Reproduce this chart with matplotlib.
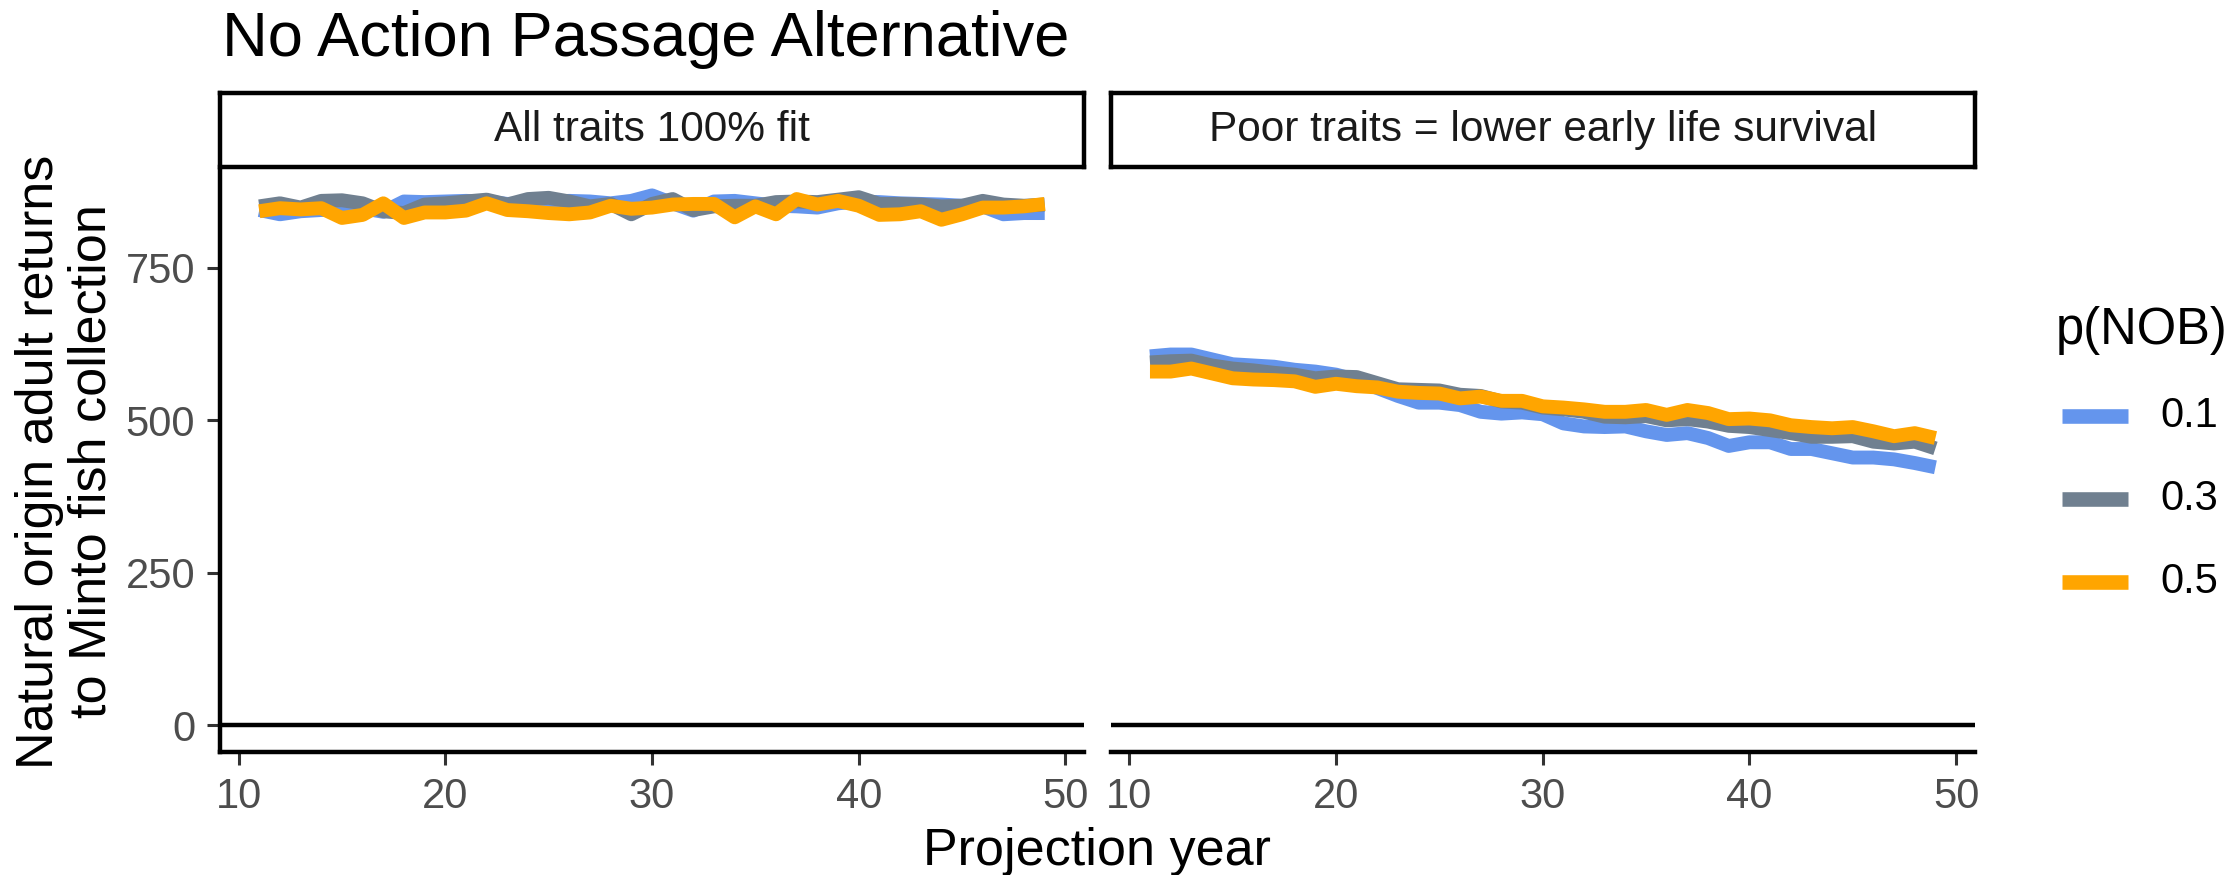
import matplotlib
matplotlib.use('Agg')
import matplotlib.pyplot as plt
from matplotlib.lines import Line2D
import numpy as np

# ---------------- data ----------------
years = np.arange(11, 50)
pnob_levels = ['0.1', '0.3', '0.5']
facets = ['All traits 100% fit', 'Poor traits = lower early life survival']

fit_p01 = [845, 838, 843, 845, 845, 848, 842, 859, 858, 859, 860, 859, 855, 856, 859, 860, 859, 856, 860, 869,
           856, 844, 859, 860, 856, 852, 851, 849, 856, 859, 858, 856, 855, 854, 852, 851, 838, 840, 840]
fit_p03 = [851, 856, 849, 860, 861, 856, 843, 840, 854, 856, 859, 862, 854, 863, 865, 859, 851, 855, 838, 855,
           863, 845, 851, 852, 852, 858, 859, 858, 862, 866, 855, 855, 854, 851, 852, 860, 854, 852, 854]
fit_p05 = [843, 848, 846, 848, 832, 837, 856, 832, 841, 841, 844, 856, 845, 843, 840, 838, 841, 852, 847, 849,
           854, 855, 855, 833, 851, 838, 863, 854, 860, 852, 837, 838, 843, 829, 838, 849, 849, 851, 855]

poor_p01 = [605, 608, 608, 600, 592, 590, 588, 583, 580, 575, 566, 553, 540, 529, 529, 525, 514, 511, 513, 510,
            495, 490, 489, 490, 482, 476, 479, 471, 458, 464, 464, 453, 453, 446, 439, 439, 436, 430, 423]
poor_p03 = [595, 597, 598, 590, 585, 582, 578, 575, 569, 572, 571, 561, 551, 550, 549, 542, 540, 531, 529, 521,
            518, 514, 506, 505, 507, 500, 502, 498, 491, 489, 484, 479, 473, 473, 474, 465, 462, 465, 454]
poor_p05 = [580, 580, 585, 577, 569, 567, 566, 564, 555, 560, 556, 554, 547, 545, 544, 536, 539, 532, 532, 523,
            521, 518, 514, 514, 517, 509, 517, 512, 502, 503, 500, 492, 489, 487, 489, 482, 474, 479, 471]

series_by_facet = [[fit_p01, fit_p03, fit_p05], [poor_p01, poor_p03, poor_p05]]
colors = ['#6495ED', '#708090', '#FFA500']

xticks = [10, 20, 30, 40, 50]
yticks = [0, 250, 500, 750]

# ---------------- layout helpers ----------------
W, H = 2234, 875
def fx(px):
    return px / W
def fy(py):
    return 1 - py / H

plt.rcParams['font.family'] = ['Liberation Sans', 'DejaVu Sans']

fig = plt.figure(figsize=(W / 100, H / 100), dpi=100)
fig.patch.set_facecolor('white')

panel_top, panel_bot = 171, 752
panel_w = 864
panel_lefts = [220, 1110.7]
strip_top, strip_bot = 93, 167

for i, (x0, facet, series) in enumerate(zip(panel_lefts, facets, series_by_facet)):
    ax = fig.add_axes([fx(x0), fy(panel_bot), panel_w / W, (panel_bot - panel_top) / H])
    for vals, col in zip(series, colors):
        ax.plot(years, vals, color=col, lw=10, solid_capstyle='butt', solid_joinstyle='round', zorder=2)
    ax.axhline(0, color='black', lw=3.2, zorder=3)
    ax.set_xlim(9.1, 50.9)
    ax.set_ylim(-44, 909)
    ax.set_xticks(xticks)
    ax.set_yticks(yticks)
    for s in ['top', 'right']:
        ax.spines[s].set_visible(False)
    ax.spines['bottom'].set_linewidth(3.2)
    ax.spines['left'].set_linewidth(3.2)
    ax.tick_params(axis='both', length=9.4, width=2.2, color='#333333', labelcolor='#4D4D4D',
                   labelsize=30, pad=8.6)
    if i == 1:
        ax.spines['left'].set_visible(False)
        ax.tick_params(axis='y', left=False, labelleft=False)

    sax = fig.add_axes([fx(x0), fy(strip_bot), panel_w / W, (strip_bot - strip_top) / H])
    sax.set_xticks([])
    sax.set_yticks([])
    for s in sax.spines.values():
        s.set_linewidth(3.2)
        s.set_color('black')
    sax.text(0.5, 0.5, facet, ha='center', va='center', fontsize=30.5, color='#1A1A1A',
             transform=sax.transAxes)

# title and axis titles
fig.text(fx(222), fy(56), 'No Action Passage Alternative', fontsize=45.5, ha='left', va='baseline')
fig.text(fx(1097), fy(851), 'Projection year', fontsize=37.5, ha='center', va='center')
fig.text(fx(66), fy(461.5), 'Natural origin adult returns\nto Minto fish collection', rotation=90,
         fontsize=37.5, ha='center', va='center', multialignment='center', linespacing=1.1)

# legend
fig.text(fx(2056), fy(330), 'p(NOB)', fontsize=36.5, ha='left', va='center')
for lab, col, yy in zip(pnob_levels, colors, [416, 499, 582]):
    fig.add_artist(Line2D([fx(2062), fx(2128)], [fy(yy), fy(yy)], color=col, lw=10.5,
                          solid_capstyle='butt'))
    fig.text(fx(2160), fy(yy), lab, fontsize=30, ha='left', va='center')

fig.savefig('out.png', dpi=100)
